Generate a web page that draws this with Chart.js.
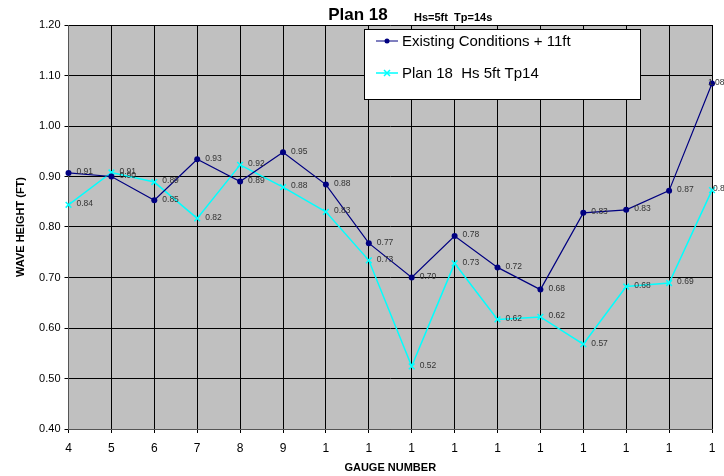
<!DOCTYPE html>
<html>
<head>
<meta charset="utf-8">
<script src="https://cdn.jsdelivr.net/npm/chart.js@4"></script>
<style>
  html, body { margin: 0; padding: 0; background: #fff; }
  #wrap { width: 724px; height: 476px; }
</style>
</head>
<body>
<div id="wrap"><canvas id="chart" width="724" height="476"></canvas></div>
<script>
// gauge labels as printed on the axis (two-digit numbers got cut to "1")
const gauges = ["4", "5", "6", "7", "8", "9", "1", "1", "1", "1", "1", "1", "1", "1", "1", "1"];

const existing = [0.907, 0.900, 0.853, 0.934, 0.890, 0.948, 0.884, 0.768, 0.700, 0.782, 0.720, 0.676, 0.828, 0.834, 0.872, 1.084];
const plan18 = [0.844, 0.908, 0.889, 0.817, 0.923, 0.879, 0.830, 0.734, 0.524, 0.728, 0.617, 0.622, 0.568, 0.682, 0.689, 0.873];

const seriesNames = ["Existing Conditions + 11ft", "Plan 18  Hs 5ft Tp14"];
const seriesColors = ["#000080", "#00FFFF"];

// grey plot background
const plotBg = {
  id: "plotBg",
  beforeDraw(chart) {
    const { ctx, chartArea: a } = chart;
    ctx.save();
    ctx.fillStyle = "#C0C0C0";
    ctx.fillRect(a.left, a.top, a.right - a.left, a.bottom - a.top);
    ctx.restore();
  }
};

// value labels to the right of each point (the last ones get pushed left, as in the original)
const lastShift = [-4, 1];
const pointLabels = {
  id: "pointLabels",
  afterDatasetsDraw(chart) {
    const ctx = chart.ctx;
    ctx.save();
    ctx.font = "8.5px Arial, 'Liberation Sans'";
    ctx.fillStyle = "#333";
    ctx.textBaseline = "middle";
    chart.data.datasets.forEach((ds, i) => {
      const pts = chart.getDatasetMeta(i).data;
      pts.forEach((pt, j) => {
        const dx = j === pts.length - 1 ? lastShift[i] : 8;
        ctx.fillText(ds.data[j].toFixed(2), pt.x + dx, pt.y - 1);
      });
    });
    ctx.restore();
  }
};

// title in two parts + boxed legend inside the plot
const titleAndLegend = {
  id: "titleAndLegend",
  afterDraw(chart) {
    const ctx = chart.ctx;
    ctx.save();
    ctx.fillStyle = "#000";
    ctx.textBaseline = "alphabetic";
    ctx.textAlign = "center";
    ctx.font = "bold 17px Arial, 'Liberation Sans'";
    ctx.fillText("Plan 18", 358, 20);
    ctx.textAlign = "left";
    ctx.font = "bold 11px Arial, 'Liberation Sans'";
    ctx.fillText("Hs=5ft  Tp=14s", 414, 21);

    ctx.fillStyle = "#fff";
    ctx.fillRect(364.5, 29.5, 276, 70);
    ctx.strokeStyle = "#000";
    ctx.lineWidth = 1;
    ctx.strokeRect(364.5, 29.5, 276, 70);

    const rows = [41, 73];
    rows.forEach((y, i) => {
      ctx.strokeStyle = seriesColors[i];
      ctx.lineWidth = i === 0 ? 1 : 1.5;
      ctx.beginPath();
      ctx.moveTo(376, y);
      ctx.lineTo(398, y);
      ctx.stroke();
      if (i === 0) {
        ctx.fillStyle = seriesColors[0];
        ctx.beginPath();
        ctx.arc(387, y, 2.5, 0, Math.PI * 2);
        ctx.fill();
      } else {
        ctx.beginPath();
        ctx.moveTo(384, y - 3); ctx.lineTo(390, y + 3);
        ctx.moveTo(390, y - 3); ctx.lineTo(384, y + 3);
        ctx.stroke();
      }
      ctx.fillStyle = "#000";
      ctx.font = "15px Arial, 'Liberation Sans'";
      ctx.textBaseline = "middle";
      ctx.fillText(seriesNames[i], 402, y + 1);
    });
    ctx.restore();
  }
};

new Chart(document.getElementById("chart"), {
  type: "line",
  data: {
    labels: gauges,
    datasets: [
      {
        label: seriesNames[0],
        data: existing,
        borderColor: seriesColors[0],
        backgroundColor: seriesColors[0],
        borderWidth: 1.2,
        pointStyle: "circle",
        pointRadius: 3,
        pointBorderWidth: 0,
        tension: 0
      },
      {
        label: seriesNames[1],
        data: plan18,
        borderColor: seriesColors[1],
        backgroundColor: seriesColors[1],
        borderWidth: 1.5,
        pointStyle: "crossRot",
        pointRadius: 4,
        pointBorderWidth: 1.5,
        tension: 0
      }
    ]
  },
  options: {
    responsive: false,
    animation: false,
    layout: { padding: { top: 25, right: 12, left: 0, bottom: 0 } },
    plugins: {
      legend: { display: false },
      title: { display: false },
      tooltip: { enabled: false }
    },
    scales: {
      x: {
        offset: false,
        afterFit: s => { s.height = 47; },
        grid: { color: "#000", lineWidth: 1, tickLength: 4, drawOnChartArea: true },
        border: { color: "#555", width: 1 },
        ticks: {
          autoSkip: false, maxRotation: 0, padding: 8,
          color: "#000", font: { family: "Arial, 'Liberation Sans'", size: 12 }
        },
        title: {
          display: true, text: "GAUGE NUMBER", color: "#000",
          font: { family: "Arial, 'Liberation Sans'", size: 11, weight: "bold" },
          padding: { top: 0, bottom: 1 }
        }
      },
      y: {
        min: 0.4, max: 1.2,
        afterFit: s => { s.width = 68.5; },
        grid: { color: "#000", lineWidth: 1, tickLength: 4 },
        border: { color: "#555", width: 1 },
        ticks: {
          stepSize: 0.1, padding: 4, color: "#000",
          font: { family: "Arial, 'Liberation Sans'", size: 11 },
          callback: v => v.toFixed(2)
        },
        title: {
          display: true, text: "WAVE HEIGHT (FT)", color: "#000",
          font: { family: "Arial, 'Liberation Sans'", size: 11, weight: "bold" },
          padding: { top: 14, bottom: 0 }
        }
      }
    }
  },
  plugins: [plotBg, pointLabels, titleAndLegend]
});
</script>
</body>
</html>
